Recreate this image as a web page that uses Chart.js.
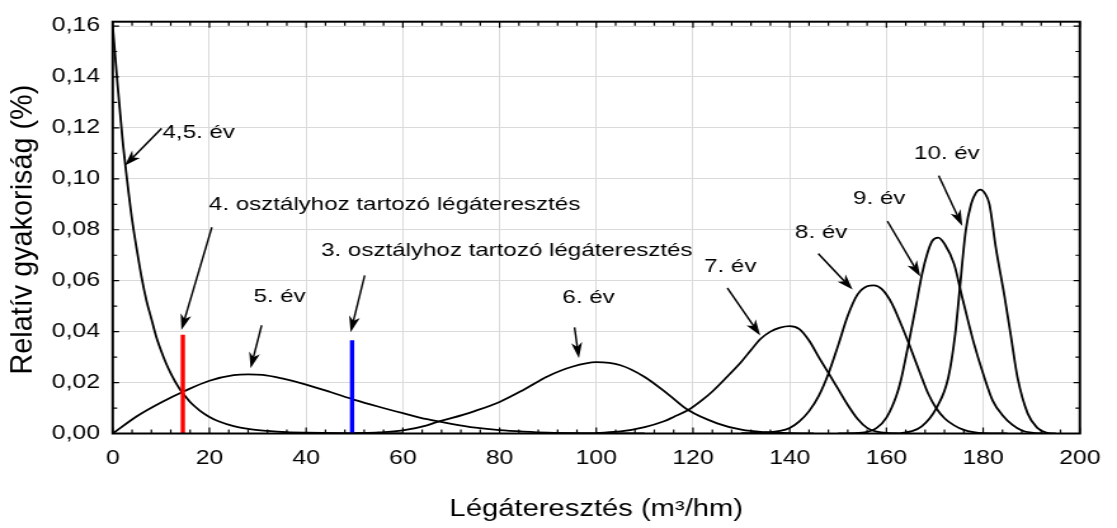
<!DOCTYPE html>
<html><head><meta charset="utf-8">
<script src="https://cdn.jsdelivr.net/npm/chart.js@4.4.1/dist/chart.umd.min.js"></script>
<style>
html,body{margin:0;padding:0;background:#fff;overflow:hidden}
#c{display:block;width:1117px !important;height:528px !important}
</style>
</head><body>
<canvas id="c" width="880" height="528" style="width:1117px;height:528px"></canvas>
<script>
// ---- data ----
const x45 = [0,1,2,3,4,5,6,7,8,9,10,11,12,13,14,15,16,17,18,20,22,25,28,32,36,40,50,60];
const y45 = [0.160,0.137,0.116,0.099,0.084,0.072,0.061,0.052,0.045,0.038,0.0325,0.0277,0.0236,0.0201,0.0171,0.0146,0.0124,0.0106,0.009,0.0065,0.0047,0.0029,0.0018,0.001,0.0005,0.0003,0.0001,0];

const x5 = [0,5,10,15,20,25,28,31,35,40,45,50,55,60,65,70,75,80,85,90,100,110];
const y5 = [0,0.0068,0.0122,0.0168,0.0207,0.0229,0.0232,0.0230,0.0216,0.0192,0.0163,0.0132,0.0105,0.0080,0.0056,0.0038,0.0023,0.0013,0.0007,0.0003,0.0001,0];

const x6 = [50,55,60,65,67,70,75,80,85,90,95,100,105,110,115,119,125,130,135,140,145];
const y6 = [0.0001,0.0004,0.0012,0.0032,0.0045,0.006,0.0089,0.0124,0.0172,0.0225,0.0262,0.028,0.0268,0.0222,0.0152,0.0092,0.004,0.0015,0.0005,0.0001,0];

const x7 = [100,105,110,114,116,119,122,124,127,130,132,134,136,138,140,142,144,146,148,150,152,154,156,158,160,165];
const y7 = [0.0002,0.0008,0.0025,0.0048,0.0065,0.0092,0.0133,0.0165,0.0222,0.0282,0.0328,0.0372,0.0400,0.0416,0.0422,0.041,0.0365,0.030,0.0238,0.0175,0.0112,0.0058,0.0022,0.0007,0.0002,0];

const x8 = [130,135,138,140,142,144,146,148,150,152,154,156,157.4,159,161,163,164.6,166,167.3,168.6,170.3,172,174,176,178,180,185];
const y8 = [0.0001,0.0004,0.001,0.0022,0.0048,0.0088,0.0148,0.0235,0.0345,0.0462,0.0545,0.0578,0.0582,0.0568,0.0515,0.043,0.0355,0.0285,0.022,0.0158,0.0099,0.006,0.0032,0.0014,0.0005,0.0001,0];

const x9 = [150,155,158,160,162,163,164.6,166,167.4,168.5,169.5,170.7,172,174,175.6,178,180,182,184,186,188,190,193];
const y9 = [0,0.0003,0.0022,0.0062,0.0145,0.021,0.0355,0.049,0.063,0.071,0.0757,0.0769,0.0745,0.0665,0.054,0.036,0.0235,0.0128,0.0072,0.0035,0.0012,0.0003,0];

const x10 = [163,165,167.3,170.3,172.8,174.2,175.1,176.4,177.5,178.5,179.4,180.3,181.3,182.6,184.4,185.7,187.1,189.2,191.2,193,195];
const y10 = [0.0002,0.0008,0.0028,0.0099,0.022,0.0387,0.0555,0.0797,0.090,0.0945,0.0958,0.0945,0.090,0.0733,0.054,0.0387,0.022,0.0079,0.0022,0.0004,0];

const markerX = [14.5, 49.5];
const markerTop = [0.0388, 0.0366];

const xTicks = [0,20,40,60,80,100,120,140,160,180,200];
const yTicks = [0,0.02,0.04,0.06,0.08,0.10,0.12,0.14,0.16];

const noteTexts = ['4,5. év','4. osztályhoz tartozó légáteresztés','3. osztályhoz tartozó légáteresztés','5. év','6. év','7. év','8. év','9. év','10. év'];
const xTitle = 'Légáteresztés (m³/hm)';
const yTitle = 'Relatív gyakoriság (%)';

// ---- layout of annotations (data coordinates) ----
const notePos = [
  {tx:10.3, ty:0.1179, a:[10.1,0.1198,2.52,0.1052]},
  {tx:19.9, ty:0.0898, a:[20.5,0.081,14.2,0.0406]},
  {tx:43.1, ty:0.0717, a:[52.1,0.0621,49.2,0.0398]},
  {tx:29.1, ty:0.0537, a:[30.8,0.0425,28.5,0.0256]},
  {tx:93.0, ty:0.0533, a:[95.5,0.0417,96.4,0.0295]},
  {tx:122.3, ty:0.0655, a:[127.1,0.0571,133.9,0.0385]},
  {tx:141.1, ty:0.0789, a:[145.9,0.0706,153.0,0.0565]},
  {tx:153.1, ty:0.092, a:[160.2,0.0834,167.0,0.0616]},
  {tx:165.7, ty:0.1099, a:[170.8,0.1013,175.7,0.0815]}
];

const SX = 1117/880;
const FONT = '"Liberation Sans", Arial, sans-serif';

function pts(xs, ys){ return xs.map((v,i)=>({x:v, y:ys[i]})); }
function curve(xs, ys){
  return {data: pts(xs,ys), borderColor:'#000', borderWidth:1.8, pointRadius:0,
          cubicInterpolationMode:'monotone', fill:false, order:2};
}
function marker(i, color){
  return {data:[{x:markerX[i],y:0},{x:markerX[i],y:markerTop[i]}], borderColor:color,
          borderWidth:3.4, pointRadius:0, fill:false, order:0};
}

function arrow(ctx, x1, y1, x2, y2){
  const ang = Math.atan2(y2-y1, x2-x1), c = Math.cos(ang), s = Math.sin(ang);
  const L = 16, W = 5.5;
  ctx.beginPath();
  ctx.moveTo(x1,y1);
  ctx.lineTo(x2 - c*L*0.7, y2 - s*L*0.7);
  ctx.lineWidth = 1.8; ctx.stroke();
  ctx.beginPath();
  ctx.moveTo(x2,y2);
  ctx.lineTo(x2 - c*L + s*W, y2 - s*L - c*W);
  ctx.lineTo(x2 - c*L*0.72, y2 - s*L*0.72);
  ctx.lineTo(x2 - c*L - s*W, y2 - s*L + c*W);
  ctx.closePath(); ctx.fill();
}

const decor = {
  id:'decor',
  afterDatasetsDraw(chart){
    const {ctx, chartArea:a, scales:{x, y}} = chart;
    ctx.save();
    ctx.strokeStyle = '#000'; ctx.lineWidth = 1.2;
    ctx.beginPath();
    for (let v = 0; v <= 200; v += 4){
      const p = x.getPixelForValue(v), L = (v % 20 === 0) ? 6 : 4;
      ctx.moveTo(p, a.bottom); ctx.lineTo(p, a.bottom - L);
      ctx.moveTo(p, a.top); ctx.lineTo(p, a.top + L);
    }
    for (let k = 0; k <= 16; k++){
      const p = y.getPixelForValue(k*0.01), L = (k % 2 === 0) ? 5 : 3.5;
      ctx.moveTo(a.left, p); ctx.lineTo(a.left + L, p);
      ctx.moveTo(a.right, p); ctx.lineTo(a.right - L, p);
    }
    ctx.stroke();
    ctx.lineWidth = 2;
    ctx.strokeRect(a.left, a.top, a.right - a.left, a.bottom - a.top);

    ctx.fillStyle = '#000';
    ctx.font = '19px ' + FONT;
    ctx.textBaseline = 'middle'; ctx.textAlign = 'left';
    notePos.forEach((n, i) => {
      ctx.fillText(noteTexts[i], x.getPixelForValue(n.tx), y.getPixelForValue(n.ty));
    });
    ctx.save();
    ctx.scale(1/SX, 1);
    notePos.forEach(n => {
      arrow(ctx, x.getPixelForValue(n.a[0])*SX, y.getPixelForValue(n.a[1]),
                 x.getPixelForValue(n.a[2])*SX, y.getPixelForValue(n.a[3]));
    });
    ctx.restore();

    ctx.save();
    ctx.translate(25.2, (a.top + a.bottom)/2 + 2);
    ctx.rotate(-Math.PI/2);
    ctx.scale(1.2, 1);
    ctx.font = '24px ' + FONT;
    ctx.textAlign = 'center'; ctx.textBaseline = 'alphabetic';
    ctx.fillText(yTitle, 0, 0);
    ctx.restore();
    ctx.restore();
  }
};

new Chart(document.getElementById('c'), {
  type: 'line',
  data: {
    datasets: [
      marker(0, '#ff0000'),
      marker(1, '#0000ff'),
      curve(x45, y45), curve(x5, y5), curve(x6, y6), curve(x7, y7),
      curve(x8, y8), curve(x9, y9), curve(x10, y10)
    ]
  },
  options: {
    responsive: false,
    animation: false,
    events: [],
    layout: {padding: {left: 0, right: 22, top: 13, bottom: 0}},
    plugins: {legend: {display: false}, tooltip: {enabled: false}},
    scales: {
      x: {
        type: 'linear', min: 0, max: 200,
        afterBuildTicks: s => { s.ticks = xTicks.map(v => ({value: v})); },
        afterFit: s => { s.height = 94.5; },
        grid: {color: '#dadada', lineWidth: 1, drawTicks: false},
        border: {display: false},
        ticks: {color: '#000', font: {family: FONT, size: 19.5}, padding: 13, maxRotation: 0, autoSkip: false,
                callback: v => String(v)},
        title: {display: true, text: xTitle, color: '#000', font: {family: FONT, size: 23},
                padding: {top: 0, bottom: 4.7}}
      },
      y: {
        type: 'linear', min: 0, max: 0.1617,
        afterBuildTicks: s => { s.ticks = yTicks.map(v => ({value: v})); },
        afterFit: s => { s.width = 88.8; },
        grid: {color: '#dadada', lineWidth: 1, drawTicks: false},
        border: {display: false},
        ticks: {color: '#000', font: {family: FONT, size: 19.5}, padding: 10, autoSkip: false,
                callback: v => v.toFixed(2).replace('.', ',')}
      }
    }
  },
  plugins: [decor]
});
</script>
</body></html>
